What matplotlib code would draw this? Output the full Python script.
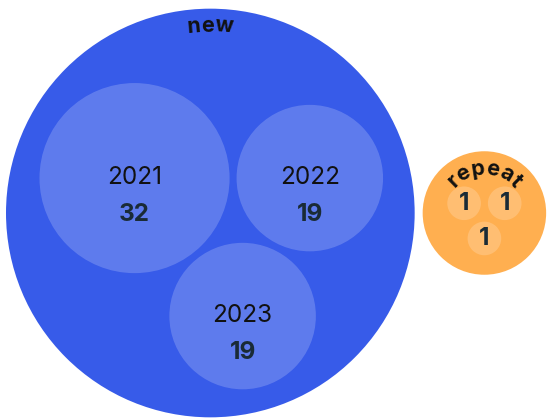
import numpy as np
import matplotlib
matplotlib.use('Agg')
import matplotlib.pyplot as plt
from matplotlib.patches import Circle
from matplotlib.font_manager import FontProperties
from matplotlib.textpath import TextToPath

# data
groups = ['new', 'repeat']
new_labels = ['2021', '2022', '2023']
new_values = [32, 19, 19]
repeat_labels = ['', '', '']
repeat_values = [1, 1, 1]

group_colors = ['#375be9', '#ffaf50']
group_pad = [21.5, 18]    # room inside each parent circle
TITLE_INSET = 23

W, H = 550, 419
K = 16.8          # px per sqrt(value)
PAD = 3.5         # gap between siblings
GAP = 8           # gap between parent circles
FONT = 'Inter'


def enclose(xs, ys, rs):
    xs, ys, rs = map(np.asarray, (xs, ys, rs))
    f = lambda x, y: np.max(np.hypot(xs - x, ys - y) + rs)
    cx, cy = xs.mean(), ys.mean()
    step = rs.max()
    n = 0
    while step > 1e-3 and n < 5000:
        n += 1
        best = (f(cx, cy), cx, cy)
        for dx in (-step, 0, step):
            for dy in (-step, 0, step):
                v = f(cx + dx, cy + dy)
                if v < best[0] - 1e-12:
                    best = (v, cx + dx, cy + dy)
        if best[1] == cx and best[2] == cy:
            step /= 2
        else:
            cx, cy = best[1], best[2]
    return cx, cy, f(cx, cy)


def pack(values, gpad):
    r = K * np.sqrt(np.array(values, dtype=float))
    rp = r + PAD
    xs = [0.0, rp[0] + rp[1]]
    ys = [0.0, 0.0]
    d = xs[1]
    da, db = rp[0] + rp[2], rp[1] + rp[2]
    cx = (da**2 - db**2 + d**2) / (2 * d)
    xs.append(cx)
    ys.append(np.sqrt(da**2 - cx**2))
    ex, ey, er = enclose(xs, ys, rp)
    return np.array(xs) - ex, np.array(ys) - ey, r, er + gpad


ttp = TextToPath()


def text_w(s, fp):
    if not s:
        return 0.0
    w, h, d = ttp.get_text_width_height_descent(s, fp, ismath=False)
    return w * 100 / 72


def arc_text(ax, s, cx, cy, rad, fp, color='#111111'):
    total = text_w(s, fp)
    for i, ch in enumerate(s):
        mid = (text_w(s[:i], fp) + text_w(s[:i + 1], fp)) / 2
        phi = (mid - total / 2) / rad
        x = cx + rad * np.sin(phi)
        y = cy - rad * np.cos(phi)
        ax.text(x, y, ch, fontproperties=fp, color=color, ha='center', va='baseline',
                rotation=-np.degrees(phi), rotation_mode='anchor')


fig = plt.figure(figsize=(5.5, 4.19), dpi=100)
ax = fig.add_axes([0, 0, 1, 1])
ax.set_xlim(0, W)
ax.set_ylim(H, 0)
ax.set_aspect('equal')
ax.axis('off')

all_labels = [new_labels, repeat_labels]
all_values = [new_values, repeat_values]

fp_title = FontProperties(family=FONT, weight='bold', size=15.5)
fp_lab = FontProperties(family=FONT, size=17.5)
fp_val = FontProperties(family=FONT, weight='bold', size=17.5)

px = 6
py = H / 2 + 3.5
for gi, g in enumerate(groups):
    xs, ys, rs, R = pack(all_values[gi], group_pad[gi])
    gx = px + R
    ax.add_patch(Circle((gx, py), R, facecolor=group_colors[gi], edgecolor='none'))
    for x, y, r, lab, val in zip(xs, ys, rs, all_labels[gi], all_values[gi]):
        ax.add_patch(Circle((gx + x, py + y + 2), r, facecolor='white', alpha=0.2,
                            edgecolor='none'))
        if lab:
            ax.text(gx + x, py + y + 1, lab, fontproperties=fp_lab, color='#111111',
                    ha='center', va='center')
            ax.text(gx + x, py + y + 38, str(val), fontproperties=fp_val,
                    color='#1a2b36', ha='center', va='center')
        else:
            ax.text(gx + x, py + y + 2, str(val), fontproperties=fp_val,
                    color='#1a2b36', ha='center', va='center')
    arc_text(ax, g, gx, py, R - TITLE_INSET, fp_title)
    px = gx + R + GAP

fig.savefig('out.png', dpi=100)
